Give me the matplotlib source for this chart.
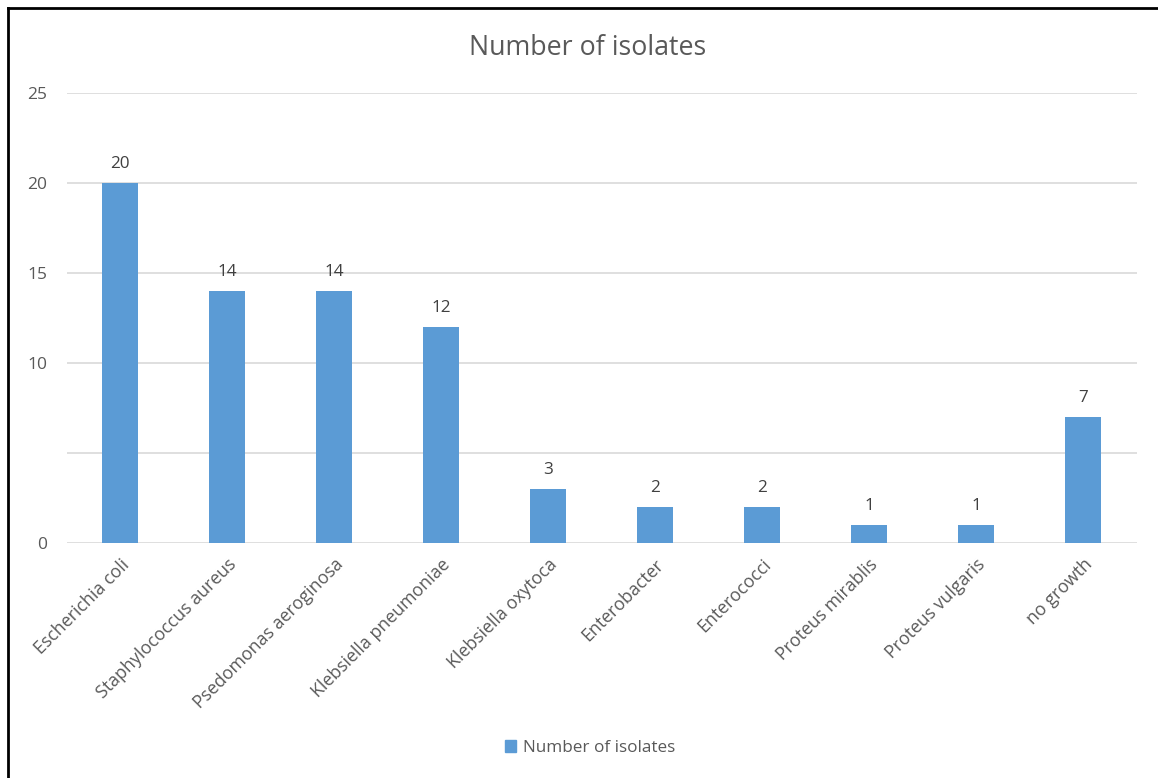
import matplotlib
matplotlib.use("Agg")
import matplotlib.pyplot as plt
from matplotlib.lines import Line2D

categories = ["Escherichia coli", "Staphylococcus aureus", "Psedomonas aeroginosa",
              "Klebsiella pneumoniae", "Klebsiella oxytoca", "Enterobacter",
              "Enterococci", "Proteus mirablis", "Proteus vulgaris", "no growth"]
values = [20, 14, 14, 12, 3, 2, 2, 1, 1, 7]
ytick_vals = [0, 10, 15, 20, 25]
grid_vals = [0, 5, 10, 15, 20, 25]
series_name = "Number of isolates"

plt.rcParams['font.family'] = ['Open Sans', 'DejaVu Sans']
txt = '#595959'
bar_color = '#5B9BD5'

W, H = 1158, 778
fig = plt.figure(figsize=(W / 100, H / 100), dpi=100)
ax = fig.add_axes([66.5 / W, 1 - 543 / H, 1070 / W, 450 / H])

x = list(range(len(categories)))
ax.bar(x, values, width=0.33, color=bar_color, zorder=3)
ax.set_xlim(-0.5, len(categories) - 0.5)
ax.set_ylim(0, 25)
for g in grid_vals:
    ax.axhline(g, color='#D9D9D9', lw=1.2, zorder=1)
ax.set_yticks(ytick_vals)
ax.set_yticklabels([str(v) for v in ytick_vals], color=txt, fontsize=12.5)
ax.tick_params(axis='y', length=0, pad=14)
ax.set_xticks(x)
ax.set_xticklabels(categories, rotation=45, ha='right', rotation_mode='anchor',
                   color=txt, fontsize=12.8)
ax.tick_params(axis='x', length=0, pad=9)
for lbl in ax.get_xticklabels():
    lbl.set_x(lbl.get_position()[0])
for s in ax.spines.values():
    s.set_visible(False)

for xi, v in zip(x, values):
    ax.annotate(str(v), (xi, v), xytext=(0, 8), textcoords='offset points',
                ha='center', va='bottom', color='#404040', fontsize=12.3)

fig.text(588 / W, 1 - 48 / H, "Number of isolates", ha='center', va='center',
         color=txt, fontsize=19.3)

handle = [plt.Rectangle((0, 0), 1, 1, color=bar_color)]
fig.legend(handle, [series_name], loc='center', bbox_to_anchor=(590 / W, 1 - 748 / H),
           frameon=False, fontsize=12.3, labelcolor=txt, handlelength=0.65,
           handleheight=0.65, handletextpad=0.4)

# figure border (top and left)
fig.add_artist(Line2D([8 / W, 8 / W], [0, 1 - 8 / H], transform=fig.transFigure,
                      color='black', lw=2))
fig.add_artist(Line2D([8 / W, 1], [1 - 8 / H, 1 - 8 / H], transform=fig.transFigure,
                      color='black', lw=2))

fig.savefig("out.png", dpi=100, facecolor='white')
